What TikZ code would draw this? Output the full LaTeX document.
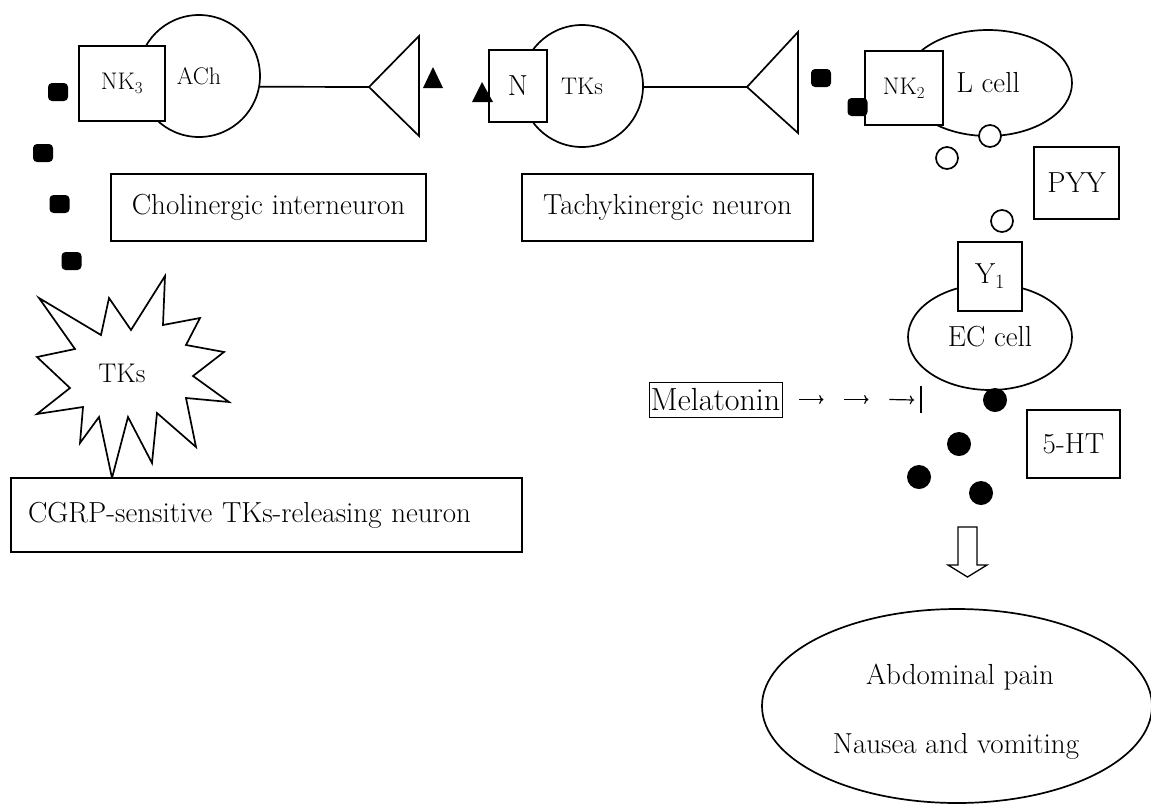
\documentclass[tikz,border=0pt]{standalone}
\usepackage{fontspec}
\usetikzlibrary{shapes.geometric,arrows.meta}
\begin{document}
\begin{tikzpicture}[x=1pt,y=-1pt,line width=1.7pt,>={To},
  big/.style={font=\fontsize{29}{35}\selectfont},
  small/.style={font=\fontsize{24}{29}\selectfont},
  box/.style={draw,fill=white,rectangle,line width=2pt,inner sep=0pt,big},
  soma/.style={draw,circle,inner sep=0pt,small},
  cellbody/.style={draw,ellipse,inner sep=0pt,big},
  vesicle/.style={draw,fill=white,circle,minimum size=22pt,inner sep=0pt},
  granule/.style={fill,circle,minimum size=24pt,inner sep=0pt},
  peptide/.style={fill,rounded corners=4pt,minimum width=20pt,minimum height=18pt,inner sep=0pt}]
\useasboundingbox (0,0) rectangle (1151,804);

% cholinergic interneuron
\node[soma,minimum size=122pt] (ACh) at (199,76) {ACh};
\node[box,small,minimum width=86pt,minimum height=75pt] (NK3) at (122,83.5) {NK\textsubscript{3}};
\coordinate (syn1) at (369,87);
\draw (ACh.-10) -- (syn1);
\draw (syn1) -- (419,36) -- (419,136) -- cycle;
\fill (433,67) -- (443,88) -- (423,88) -- cycle;

% tachykinergic neuron
\node[soma,minimum size=122pt] (TKs) at (582,86) {TKs};
\node[box,minimum width=58pt,minimum height=72pt] (N) at (518,86) {N};
\coordinate (syn2) at (747,87);
\draw (TKs.-1) -- (syn2);
\draw (syn2) -- (798,32) -- (798,133) -- cycle;
\fill (482,82) -- (493,102) -- (472,102) -- cycle;

% L cell
\node[cellbody,minimum width=168pt,minimum height=106pt] (Lcell) at (988,83) {L cell};
\node[box,small,minimum width=78pt,minimum height=74pt] (NK2) at (904,88) {NK\textsubscript{2}};
\node[peptide] (p5) at (821,78) {};
\node[peptide] (p6) at (857.5,107) {};
\node[vesicle] (v1) at (990,136) {};
\node[vesicle] (v2) at (947,158) {};
\node[vesicle] (v3) at (1002,221) {};
\node[box,minimum width=85pt,minimum height=72pt] (PYY) at (1076.5,183) {PYY};

% EC cell
\node[cellbody,minimum width=164pt,minimum height=106pt] (EC) at (990,337) {EC cell};
\node[box,minimum width=64pt,minimum height=69pt] (Y1) at (990,276.5) {Y\textsubscript{1}};
\node[granule] (g1) at (995,400) {};
\node[granule] (g2) at (959,444) {};
\node[granule] (g3) at (919,477) {};
\node[granule] (g4) at (981,493) {};
\node[box,minimum width=93pt,minimum height=68pt] (HT) at (1073.5,444) {5-HT};

% melatonin
\node[draw,line width=0.8pt,inner sep=0pt,minimum width=133pt,minimum height=35pt,font=\fontsize{32}{38}\selectfont] (Mel) at (715.5,399.5) {Melatonin};
\coordinate (blk) at (921,400);
\begin{scope}[line width=1.2pt]
\draw[->] ([xshift=17pt]Mel.east) -- ([xshift=41pt]Mel.east);
\draw[->] ([xshift=62pt]Mel.east) -- ([xshift=86pt]Mel.east);
\draw[->] ([xshift=107pt]Mel.east) -- ([xshift=-7pt]blk);
\draw (blk) ++(0,-14) -- ++(0,27);
\end{scope}

% symptoms
\draw[line width=1.3pt] (958,527) -- (977,527) -- (977,565) -- (987,565) -- (967.5,577) -- (948,565) -- (958,565) -- cycle;
\node[cellbody,minimum width=390pt,minimum height=194pt] (sym) at (957,706) {};
\node[big] (pain) at (960,677) {Abdominal pain};
\node[big] (nausea) at (956,746) {Nausea and vomiting};

% left side
\node[peptide] (p1) at (58,92) {};
\node[peptide] (p2) at (43,153) {};
\node[peptide] (p3) at (59.5,204) {};
\node[peptide] (p4) at (71.5,261) {};
\node[box,minimum width=315pt,minimum height=67pt] (chol) at (268.5,207.5) {Cholinergic interneuron};
\node[box,minimum width=291pt,minimum height=67pt] (tach) at (667.5,207.5) {Tachykinergic neuron};
\draw[fill=white] (39,298) -- (101,335) -- (109,298) -- (131,330) -- (165,276) -- (163,325)
  -- (200,318) -- (186,345) -- (224,352) -- (193,376) -- (229,402) -- (186,398)
  -- (196,447) -- (157,413) -- (152,463) -- (128,417) -- (112,478) -- (99,417)
  -- (80,443) -- (83,407) -- (37,414) -- (70,388) -- (37,357) -- (75,349) -- cycle;
\node[font=\fontsize{27}{32}\selectfont] (TKs2) at (122,373) {TKs};
\node[box,minimum width=511pt,minimum height=74pt,text width=477pt,align=left] (CGRP) at (266.5,515) {CGRP-sensitive TKs-releasing neuron};
\end{tikzpicture}
\end{document}
